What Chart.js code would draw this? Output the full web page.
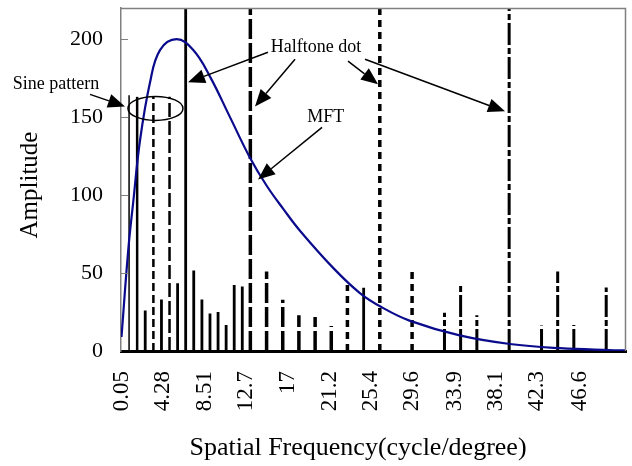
<!DOCTYPE html>
<html>
<head>
<meta charset="utf-8">
<script src="https://cdn.jsdelivr.net/npm/chart.js@4.4.1/dist/chart.umd.min.js"></script>
<style>
  html, body { margin: 0; padding: 0; background: #fff; }
</style>
</head>
<body>
<canvas id="chart" width="632" height="466"></canvas>
<script>
// x tick labels (cycle/degree)
const xTicks = [0.05, 4.28, 8.51, 12.7, 17, 21.2, 25.4, 29.6, 33.9, 38.1, 42.3, 46.6];
const yTicks = [0, 50, 100, 150, 200];

// MFT curve
const mftFreq = [0.05, 0.74, 1.25, 1.93, 2.94, 3.96, 5.65, 7.34, 9.04, 11.07, 13.1, 14.8, 16.5, 18.2, 21.6, 24.3, 26.5, 29.3, 34.4, 39.5, 44.6, 49.6, 51.3];
const mftAmp  = [9, 65, 96, 135, 172, 193, 200, 193, 176, 150, 124, 106, 91, 77, 53, 37, 28, 19.5, 10, 4.5, 1.8, 0.6, 0.4];

// sine pattern lines
const sineFreq = [0.82, 1.64, 3.29, 4.93];
const sineAmp  = [164, 163, 163, 163];

// halftone dot spectra (full height lines go off the top)
const solidFreq = [2.46, 4.11, 5.75, 6.57, 7.39, 8.22, 9.04, 9.86, 10.68, 11.50, 12.32, 24.65];
const solidAmp  = [26, 33, 43.5, 220, 51.6, 33, 24, 25, 16.7, 42.4, 41.4, 40.5];
const longDashFreq = [13.14, 14.79, 16.43, 18.07, 19.72, 21.36];
const longDashAmp  = [220, 51, 32.8, 23, 21.8, 16];
const dotFreq = [23.00, 26.29, 29.57];
const dotAmp  = [42.4, 220, 51];
const dashDotFreq = [32.86, 34.50, 36.15, 39.43, 42.72, 44.36, 46.00, 49.29];
const dashDotAmp  = [24.5, 43, 23, 220, 16.3, 51, 16.7, 40.7];

function spikes(freq, amp) {
  const pts = [];
  freq.forEach((f, i) => {
    pts.push({x: f, y: 0}, {x: f, y: amp[i]}, {x: f, y: null});
  });
  return pts;
}

function spikeSet(freq, amp, width, dash) {
  return {
    data: spikes(freq, amp),
    showLine: true,
    borderColor: '#000',
    borderWidth: width,
    borderDash: dash,
    pointRadius: 0,
    spanGaps: false,
    order: 2
  };
}

const serif = "'Liberation Serif', 'Times New Roman', serif";

// annotation helper, positions in data units
const annotations = {
  id: 'annotations',
  afterDatasetsDraw(chart) {
    const {ctx, chartArea: a, scales: {x, y}} = chart;
    const X = v => x.getPixelForValue(v);
    const Y = v => y.getPixelForValue(v);
    ctx.save();
    // frame top/right
    ctx.strokeStyle = '#808080';
    ctx.lineWidth = 1.5;
    ctx.beginPath();
    ctx.moveTo(a.left, a.top + 0.5);
    ctx.lineTo(a.right - 0.5, a.top + 0.5);
    ctx.lineTo(a.right - 0.5, a.bottom);
    ctx.stroke();
    // inward y ticks
    ctx.lineWidth = 1;
    yTicks.forEach(t => {
      if (t === 0) return;
      const py = Math.round(Y(t)) + 0.5;
      ctx.beginPath();
      ctx.moveTo(a.left, py);
      ctx.lineTo(a.left + 7, py);
      ctx.stroke();
    });

    ctx.strokeStyle = '#000';
    ctx.fillStyle = '#000';
    // ellipse round the sine pattern tops
    ctx.lineWidth = 1.5;
    ctx.beginPath();
    ctx.ellipse(X(3.5), Y(155.6), 27.5, 12, 0, 0, Math.PI * 2);
    ctx.stroke();

    function arrow(x1, y1, x2, y2) {
      const sx = X(x1), sy = Y(y1), ex = X(x2), ey = Y(y2);
      const ang = Math.atan2(ey - sy, ex - sx);
      const len = 17, hw = 7;
      const bx = ex - Math.cos(ang) * len, by = ey - Math.sin(ang) * len;
      ctx.lineWidth = 1.5;
      ctx.beginPath();
      ctx.moveTo(sx, sy);
      ctx.lineTo(bx, by);
      ctx.stroke();
      ctx.beginPath();
      ctx.moveTo(ex, ey);
      ctx.lineTo(bx - Math.sin(ang) * hw, by + Math.cos(ang) * hw);
      ctx.lineTo(bx + Math.sin(ang) * hw, by - Math.cos(ang) * hw);
      ctx.closePath();
      ctx.fill();
    }
    arrow(-3.15, 164.6, 0.41, 156.9);
    arrow(14.93, 191.6, 6.81, 172.3);
    arrow(17.68, 187.1, 13.61, 156.9);
    arrow(23.06, 185.9, 26.11, 171.1);
    arrow(24.79, 187.1, 39.01, 153.7);
    arrow(20.42, 143.4, 13.92, 110);

    ctx.font = "18px " + serif;
    ctx.textAlign = 'center';
    ctx.textBaseline = 'middle';
    ctx.fillText('Sine pattern', X(-6.6), Y(171));
    ctx.fillText('Halftone dot', X(19.8), Y(194.9));
    ctx.fillText('MFT', X(20.8), Y(149.8));

    // axis titles
    ctx.font = "26px " + serif;
    ctx.fillText('Spatial Frequency(cycle/degree)', 358, 448);
    ctx.font = "25px " + serif;
    ctx.translate(30, 185);
    ctx.rotate(-Math.PI / 2);
    ctx.fillText('Amplitude', 0, 0);
    ctx.restore();
  }
};

new Chart(document.getElementById('chart'), {
  type: 'scatter',
  data: {
    datasets: [
      {
        data: mftFreq.map((f, i) => ({x: f, y: mftAmp[i]})),
        showLine: true,
        borderColor: '#0a0a8c',
        borderWidth: 2.2,
        pointRadius: 0,
        tension: 0.4,
        order: 1
      },
      spikeSet([sineFreq[0]], [sineAmp[0]], 1.5, []),
      spikeSet([sineFreq[1]], [sineAmp[1]], 2.5, []),
      spikeSet([sineFreq[2]], [sineAmp[2]], 2.5, [8, 4]),
      spikeSet([sineFreq[3]], [sineAmp[3]], 2.5, [14, 4]),
      spikeSet(solidFreq, solidAmp, 2.8, []),
      spikeSet(longDashFreq, longDashAmp, 3.5, [20, 4]),
      spikeSet(dotFreq, dotAmp, 3.5, [7, 5]),
      spikeSet(dashDotFreq, dashDotAmp, 3, [22, 3, 6, 3])
    ]
  },
  options: {
    responsive: false,
    animation: false,
    devicePixelRatio: 1,
    layout: {padding: {left: 0, right: 6, top: 8, bottom: 0}},
    plugins: {legend: {display: false}, tooltip: {enabled: false}},
    scales: {
      x: {
        type: 'linear',
        min: 0,
        max: 51.3,
        grid: {display: false, drawTicks: false},
        border: {display: true, color: '#000', width: 3},
        afterBuildTicks: s => { s.ticks = xTicks.map(v => ({value: v})); },
        afterFit: s => { s.height = 115; s.paddingLeft = 0; s.paddingRight = 0; },
        ticks: {
          autoSkip: false,
          minRotation: 90,
          maxRotation: 90,
          padding: 20,
          color: '#000',
          font: {family: serif, size: 23},
          callback: v => String(v)
        }
      },
      y: {
        min: 0,
        max: 220,
        grid: {display: false, drawTicks: false},
        border: {display: true, color: '#808080', width: 1.5},
        afterBuildTicks: s => { s.ticks = yTicks.map(v => ({value: v})); },
        afterFit: s => { s.width = 121; s.paddingTop = 0; s.paddingBottom = 0; },
        ticks: {
          padding: 18,
          color: '#000',
          font: {family: serif, size: 22}
        }
      }
    }
  },
  plugins: [annotations]
});
</script>
</body>
</html>
